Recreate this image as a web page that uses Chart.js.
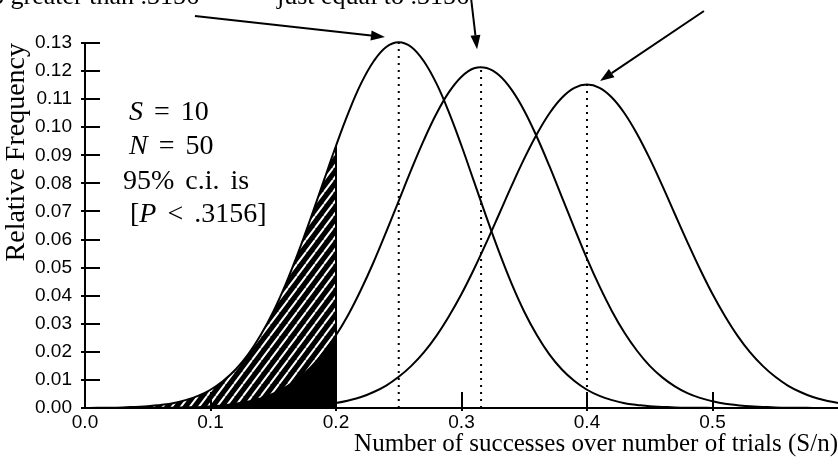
<!DOCTYPE html>
<html lang="en">
<head>
  <meta charset="UTF-8">
  <title>Confidence interval for S/n</title>
  <style>
    body {
      margin: 0;
      background: #fff;
    }
    .wrap {
      position: relative;
      width: 838px;
      height: 467px;
      overflow: hidden;
    }
    canvas {
      position: absolute;
      left: 0;
      top: 0;
    }
    .caption {
      position: absolute;
      top: -19px;
      font: 26px 'Liberation Serif', serif;
      line-height: 30px;
      white-space: nowrap;
      color: #000;
    }
    .note {
      position: absolute;
      font: 28px 'Liberation Serif', serif;
      line-height: 34px;
      white-space: nowrap;
      word-spacing: 4px;
      color: #000;
    }
  </style>
  <script src="https://cdn.jsdelivr.net/npm/chart.js"></script>
</head>
<body>
  <div class="wrap">
    <canvas id="ciChart" width="838" height="467"></canvas>
    <div class="caption" style="left:-22px">no greater than .3156</div>
    <div class="caption" style="left:277px">just equal to .3156</div>
    <div class="note" style="left:129px; top:94px"><i>S</i> = 10</div>
    <div class="note" style="left:129px; top:128px"><i>N</i> = 50</div>
    <div class="note" style="left:123px; top:163px">95% c.i. is</div>
    <div class="note" style="left:130px; top:196px">[<i>P</i> &lt; .3156]</div>
  </div>

  <script>
    // proportion S/n along the x axis
    const xValues = [
      0.00, 0.01, 0.02, 0.03, 0.04, 0.05, 0.06, 0.07, 0.08, 0.09,
      0.10, 0.11, 0.12, 0.13, 0.14, 0.15, 0.16, 0.17, 0.18, 0.19,
      0.20, 0.21, 0.22, 0.23, 0.24, 0.25, 0.26, 0.27, 0.28, 0.29,
      0.30, 0.31, 0.32, 0.33, 0.34, 0.35, 0.36, 0.37, 0.38, 0.39,
      0.40, 0.41, 0.42, 0.43, 0.44, 0.45, 0.46, 0.47, 0.48, 0.49,
      0.50, 0.51, 0.52, 0.53, 0.54, 0.55, 0.56, 0.57, 0.58, 0.59,
      0.60
    ];

    // relative frequency, P = .25
    const freqLow = [
      0.0000, 0.0001, 0.0001, 0.0002, 0.0004, 0.0006, 0.0011, 0.0017, 0.0028, 0.0043,
      0.0065, 0.0096, 0.0137, 0.0191, 0.0260, 0.0343, 0.0442, 0.0555, 0.0678, 0.0806,
      0.0934, 0.1053, 0.1156, 0.1235, 0.1286, 0.1303, 0.1286, 0.1235, 0.1156, 0.1053,
      0.0934, 0.0806, 0.0678, 0.0555, 0.0442, 0.0343, 0.0260, 0.0191, 0.0137, 0.0096,
      0.0065, 0.0043, 0.0028, 0.0017, 0.0011, 0.0006, 0.0004, 0.0002, 0.0001, 0.0001,
      0.0000, 0.0000, 0.0000, 0.0000, 0.0000, 0.0000, 0.0000, 0.0000, 0.0000, 0.0000,
      0.0000
    ];

    // relative frequency, P = .3156
    const freqMid = [
      0.0000, 0.0000, 0.0000, 0.0000, 0.0000, 0.0000, 0.0001, 0.0001, 0.0002, 0.0003,
      0.0006, 0.0009, 0.0015, 0.0023, 0.0034, 0.0051, 0.0074, 0.0104, 0.0145, 0.0196,
      0.0259, 0.0334, 0.0422, 0.0520, 0.0627, 0.0738, 0.0849, 0.0954, 0.1048, 0.1125,
      0.1180, 0.1210, 0.1211, 0.1185, 0.1133, 0.1059, 0.0966, 0.0862, 0.0751, 0.0640,
      0.0532, 0.0433, 0.0344, 0.0267, 0.0203, 0.0150, 0.0109, 0.0077, 0.0053, 0.0036,
      0.0024, 0.0015, 0.0010, 0.0006, 0.0004, 0.0002, 0.0001, 0.0001, 0.0000, 0.0000,
      0.0000
    ];

    // relative frequency, P = .4
    const freqHigh = [
      0.0000, 0.0000, 0.0000, 0.0000, 0.0000, 0.0000, 0.0000, 0.0000, 0.0000, 0.0000,
      0.0000, 0.0000, 0.0000, 0.0001, 0.0001, 0.0002, 0.0003, 0.0005, 0.0007, 0.0012,
      0.0018, 0.0027, 0.0039, 0.0057, 0.0080, 0.0111, 0.0150, 0.0198, 0.0257, 0.0327,
      0.0406, 0.0495, 0.0591, 0.0691, 0.0792, 0.0888, 0.0975, 0.1049, 0.1105, 0.1140,
      0.1152, 0.1140, 0.1105, 0.1049, 0.0975, 0.0888, 0.0792, 0.0691, 0.0591, 0.0495,
      0.0406, 0.0327, 0.0257, 0.0198, 0.0150, 0.0111, 0.0080, 0.0057, 0.0039, 0.0027,
      0.0018
    ];

    // centre of each curve and its height there
    const peakX = [0.25, 0.3156, 0.4];
    const peakY = [0.1303, 0.1214, 0.1152];

    // observed S/n: tails below this are shaded
    const observed = 0.2;

    // pointer arrows above the peaks, [x, y] in axis units
    const arrowFrom = [[0.0876, 0.1396], [0.3076, 0.1460], [0.4932, 0.1414]];
    const arrowTo   = [[0.2390, 0.1321], [0.3124, 0.1278], [0.4104, 0.1165]];

    const xTicks = [0.0, 0.1, 0.2, 0.3, 0.4, 0.5];

    const toPoints = ys => xValues.map((x, i) => ({ x: x, y: ys[i] }));
    const upTo = ys => toPoints(ys).filter(p => p.x <= observed + 1e-9);

    // black with white diagonal stripes
    function hatchPattern() {
      const w = 9, h = 12;
      const c = document.createElement('canvas');
      c.width = w;
      c.height = h;
      const g = c.getContext('2d');
      g.fillStyle = '#000';
      g.fillRect(0, 0, w, h);
      g.strokeStyle = '#fff';
      g.lineWidth = 2;
      g.beginPath();
      for (const dx of [-w, 0, w]) {
        g.moveTo(dx, h);
        g.lineTo(dx + w, 0);
      }
      g.stroke();
      return g.createPattern(c, 'repeat');
    }

    const curveStyle = {
      borderColor: '#000',
      borderWidth: 2,
      pointRadius: 0,
      fill: false,
      tension: 0.4,
      clip: false,
      order: 1
    };

    const dotted = (x, y) => ({
      data: [{ x: x, y: 0 }, { x: x, y: y }],
      borderColor: '#000',
      borderWidth: 2,
      borderDash: [2, 5],
      pointRadius: 0,
      fill: false,
      order: 2
    });

    // inward tick marks and the arrows
    const extras = {
      id: 'extras',
      afterDraw(chart) {
        const { ctx, chartArea: a, scales: { x, y } } = chart;
        ctx.save();
        ctx.strokeStyle = '#000';
        ctx.fillStyle = '#000';
        ctx.lineWidth = 2;
        ctx.beginPath();
        y.ticks.forEach(t => {
          const py = Math.round(y.getPixelForValue(t.value));
          ctx.moveTo(a.left - 4, py);
          ctx.lineTo(a.left + 15, py);
        });
        x.ticks.forEach(t => {
          if (t.value === 0) return;
          const px = Math.round(x.getPixelForValue(t.value));
          ctx.moveTo(px, a.bottom + 3);
          ctx.lineTo(px, a.bottom - 16);
        });
        ctx.stroke();

        arrowFrom.forEach((f, i) => {
          const x0 = x.getPixelForValue(f[0]), y0 = y.getPixelForValue(f[1]);
          const x1 = x.getPixelForValue(arrowTo[i][0]), y1 = y.getPixelForValue(arrowTo[i][1]);
          const ang = Math.atan2(y1 - y0, x1 - x0);
          const len = 14, half = 5;
          const bx = x1 - len * Math.cos(ang), by = y1 - len * Math.sin(ang);
          ctx.beginPath();
          ctx.moveTo(x0, y0);
          ctx.lineTo(bx, by);
          ctx.stroke();
          ctx.beginPath();
          ctx.moveTo(x1, y1);
          ctx.lineTo(bx + half * Math.sin(ang), by - half * Math.cos(ang));
          ctx.lineTo(bx - half * Math.sin(ang), by + half * Math.cos(ang));
          ctx.closePath();
          ctx.fill();
        });
        ctx.restore();
      }
    };

    const ctx = document.getElementById('ciChart').getContext('2d');
    const lowAtObserved = freqLow[xValues.indexOf(observed)];

    new Chart(ctx, {
      type: 'line',
      data: {
        datasets: [
          { ...curveStyle, data: toPoints(freqLow) },
          { ...curveStyle, data: toPoints(freqMid) },
          { ...curveStyle, data: toPoints(freqHigh) },
          dotted(peakX[0], peakY[0]),
          dotted(peakX[1], peakY[1]),
          dotted(peakX[2], peakY[2]),
          {
            // right edge of the shaded tail
            data: [{ x: observed, y: 0 }, { x: observed, y: lowAtObserved }],
            borderColor: '#000',
            borderWidth: 2,
            pointRadius: 0,
            fill: false,
            order: 2
          },
          {
            data: upTo(freqMid),
            borderWidth: 0,
            pointRadius: 0,
            backgroundColor: '#000',
            fill: 'origin',
            tension: 0.4,
            order: 3
          },
          {
            data: upTo(freqLow),
            borderWidth: 0,
            pointRadius: 0,
            backgroundColor: hatchPattern(),
            fill: 'origin',
            tension: 0.4,
            order: 4
          }
        ]
      },
      options: {
        responsive: false,
        animation: false,
        events: [],
        layout: { padding: { top: 43, right: 0, left: 0, bottom: 0 } },
        plugins: {
          legend: { display: false },
          tooltip: { enabled: false }
        },
        scales: {
          x: {
            type: 'linear',
            min: 0,
            max: 0.6,
            afterFit: s => { s.height = 59; },
            afterBuildTicks: s => { s.ticks = xTicks.map(v => ({ value: v })); },
            grid: { drawOnChartArea: false, drawTicks: false },
            border: { display: true, color: '#000', width: 2 },
            ticks: {
              padding: 3,
              color: '#000',
              font: { family: "'Liberation Sans', Arial, sans-serif", size: 19 },
              callback: v => v.toFixed(1)
            },
            title: {
              display: true,
              text: 'Number of successes over number of trials (S/n)',
              align: 'end',
              color: '#000',
              padding: { top: 0, bottom: 8 },
              font: { family: "'Liberation Serif', serif", size: 25 }
            }
          },
          y: {
            min: 0,
            max: 0.13,
            afterFit: s => { s.width = 85; },
            grid: { drawOnChartArea: false, drawTicks: false },
            border: { display: true, color: '#000', width: 2 },
            ticks: {
              stepSize: 0.01,
              padding: 13,
              color: '#000',
              font: { family: "'Liberation Sans', Arial, sans-serif", size: 19 },
              callback: v => v.toFixed(2)
            },
            title: {
              display: true,
              text: 'Relative Frequency',
              align: 'end',
              color: '#000',
              padding: { top: 0, bottom: 0 },
              font: { family: "'Liberation Serif', serif", size: 28 }
            }
          }
        }
      },
      plugins: [extras]
    });
  </script>
</body>
</html>
